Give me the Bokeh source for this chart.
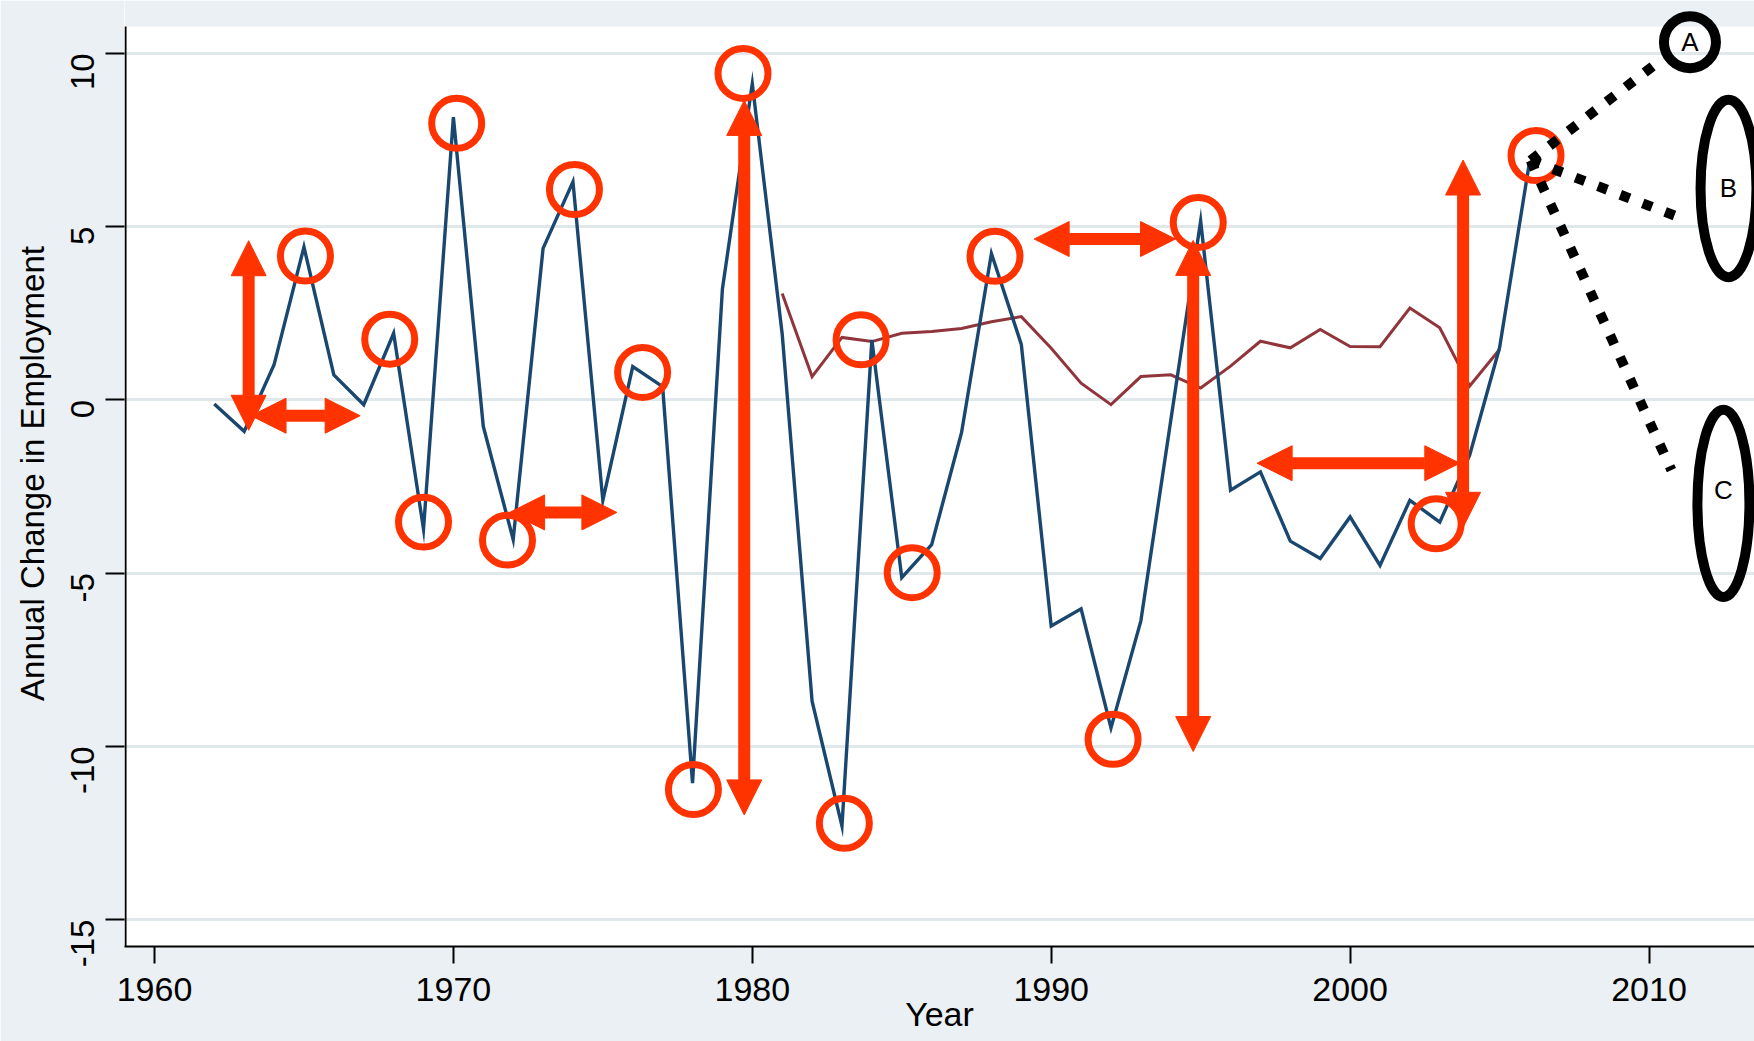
import math
from bokeh.plotting import figure
from bokeh.models import FixedTicker, BoxAnnotation, Arrow, NormalHead
from bokeh.core.properties import value
from bokeh.embed import file_html
from bokeh.resources import INLINE

# ---------------- data ----------------
years_emp = list(range(1962, 2007))
emp_change = [-0.12, -0.91, 1.01, 4.41, 0.72, -0.14, 1.92, -3.73, 8.16, -0.77,
              -4.03, 4.37, 6.29, -2.90, 0.96, 0.38, -11.06, 3.20, 9.12, 1.90,
              -8.70, -12.30, 1.73, -5.13, -4.18, -0.95, 4.22, 1.60, -6.53, -6.03,
              -9.47, -6.38, -0.60, 5.16, -2.61, -2.08, -4.08, -4.58, -3.38, -4.78,
              -2.90, -3.53, -1.60, 1.50, 6.85]
years_other = list(range(1981, 2006))
other_change = [3.07, 0.67, 1.80, 1.68, 1.92, 1.97, 2.06, 2.25, 2.40, 1.49,
                0.48, -0.14, 0.67, 0.72, 0.34, 0.97, 1.69, 1.50, 2.03, 1.54,
                1.53, 2.65, 2.08, 0.40, 1.45]
x_ticks = [1960, 1970, 1980, 1990, 2000, 2010]
y_ticks = [-15, -10, -5, 0, 5, 10]
y_tick_labels = ["-15", "-10", "-5", "0", "5", "10"]

# ---------------- hand-drawn overlay annotations ----------------
circle_x = [1965.05, 1967.87, 1969.00, 1970.11, 1971.81, 1974.05, 1976.33, 1978.03, 1979.69,
            1983.08, 1983.64, 1985.35, 1988.12, 1992.07, 1994.92, 2002.88, 2006.22]
circle_y = [4.15, 1.75, -3.53, 7.98, -4.05, 6.07, 0.79, -11.25, 9.42,
            -12.22, 1.73, -4.99, 4.14, -9.80, 5.12, -3.58, 7.05]
arrow_x0 = [1963.15, 1963.23, 1971.88, 1979.73, 1989.43, 1994.75, 1996.89, 2003.78]
arrow_y0 = [-0.88, -0.46, -3.25, -11.98, 4.64, -10.15, -1.83, -3.68]
arrow_x1 = [1963.15, 1966.88, 1975.47, 1979.73, 1994.16, 1994.75, 2003.67, 2003.78]
arrow_y1 = [4.59, -0.46, -3.25, 8.64, 4.64, 4.60, -1.83, 6.92]
fan_x0, fan_y0 = 2006.04, 6.91
fan_x1 = [2010.16, 2011.00, 2010.75]
fan_y1 = [9.65, 5.27, -2.03]
scen_x = [2011.37, 2012.66, 2012.49]
scen_y = [10.32, 6.10, -2.99]
scen_w = [1.74, 1.87, 1.74]
scen_h = [1.50, 5.12, 5.40]
scen_labels = ["A", "B", "C"]
scen_label_y = [10.32, 6.10, -2.60]

# ---------------- styling ----------------
BG = "#eaf0f3"
RED = "#ff3300"
NAVY = "#1a476f"
MAROON = "#90353b"
FONT = "Liberation Sans"

W, H = 1754, 1041
LEFT, BOTTOM = 124, 95
FW, FH = W - LEFT, H - BOTTOM
PX_X, PX_Y = 29.89, 34.65
xs = 1960 - 30 / PX_X
xe = xs + FW / PX_X
ye = 399.3 / PX_Y
ys = ye - FH / PX_Y
WHITE_TOP = (399.3 - 26) / PX_Y

p = figure(width=W, height=H, x_range=(xs, xe), y_range=(ys, ye),
           output_backend="svg", toolbar_location=None,
           min_border_left=LEFT, min_border_right=0, min_border_top=0,
           min_border_bottom=BOTTOM)
p.background_fill_color = "white"
p.border_fill_color = BG
p.outline_line_color = None

# gray band above the plot region
p.add_layout(BoxAnnotation(bottom=WHITE_TOP, fill_color=BG, fill_alpha=1.0,
                           line_color=None, level="underlay"))

p.xaxis.ticker = FixedTicker(ticks=x_ticks)
p.yaxis.ticker = FixedTicker(ticks=y_ticks)
p.yaxis.major_label_overrides = dict(zip(y_ticks, y_tick_labels))
for ax in (p.xaxis[0], p.yaxis[0]):
    ax.major_label_text_font = FONT
    ax.major_label_text_color = "black"
    ax.major_tick_line_color = "black"
    ax.major_tick_line_width = 2
    ax.minor_tick_line_color = None
    ax.major_tick_in = 0
    ax.axis_label_text_font = FONT
    ax.axis_label_text_font_style = "normal"
    ax.axis_label_text_color = "black"
p.xaxis.major_tick_out = 17
p.yaxis.major_tick_out = 19
p.xaxis.major_label_text_font_size = "34px"
p.yaxis.major_label_text_font_size = "33px"
p.xaxis.major_label_standoff = 14
p.yaxis.major_label_standoff = 23
p.yaxis.major_label_orientation = math.pi / 2
p.xaxis.axis_line_color = "black"
p.xaxis.axis_line_width = 2
p.yaxis.axis_line_color = None
p.yaxis.axis_label = "Annual Change in Employment"
p.yaxis.axis_label_text_font_size = "33px"
p.yaxis.axis_label_standoff = 6
p.xaxis.axis_label = "Year"
p.xaxis.axis_label_text_font_size = "34px"
p.xaxis.axis_label_standoff = -9
p.xgrid.visible = False
p.ygrid.grid_line_color = "#e1e8eb"
p.ygrid.grid_line_width = 3

# y axis line only over the white plot region
p.segment(x0=[xs + 0.035], y0=[ys], x1=[xs + 0.035], y1=[WHITE_TOP],
          line_color="black", line_width=2)

# data series
p.line(years_other, other_change, line_color=MAROON, line_width=3, line_join="miter")
p.line(years_emp, emp_change, line_color=NAVY, line_width=3.4, line_join="miter")

# red circles
p.scatter(circle_x, circle_y, marker="circle", size=50, fill_color=None,
          line_color=RED, line_width=7)

# red double arrows
for a, b, c, d in zip(arrow_x0, arrow_y0, arrow_x1, arrow_y1):
    p.add_layout(Arrow(x_start=a, y_start=b, x_end=c, y_end=d,
                       start=NormalHead(size=35, fill_color=RED, line_color=RED, line_width=1),
                       end=NormalHead(size=35, fill_color=RED, line_color=RED, line_width=1),
                       line_color=RED, line_width=12))

# scenario fan
p.segment(x0=[fan_x0] * 3, y0=[fan_y0] * 3, x1=fan_x1, y1=fan_y1,
          line_color="black", line_width=10, line_dash="10 14", line_cap="butt")
p.ellipse(x=scen_x, y=scen_y, width=scen_w, height=scen_h, fill_color=None,
          line_color="black", line_width=10)
p.text(x=scen_x, y=scen_label_y, text=scen_labels, text_font=value(FONT),
       text_font_size="26px", text_align="center", text_baseline="middle",
       text_color="black")

open("out.html", "w").write(file_html(p, INLINE))
